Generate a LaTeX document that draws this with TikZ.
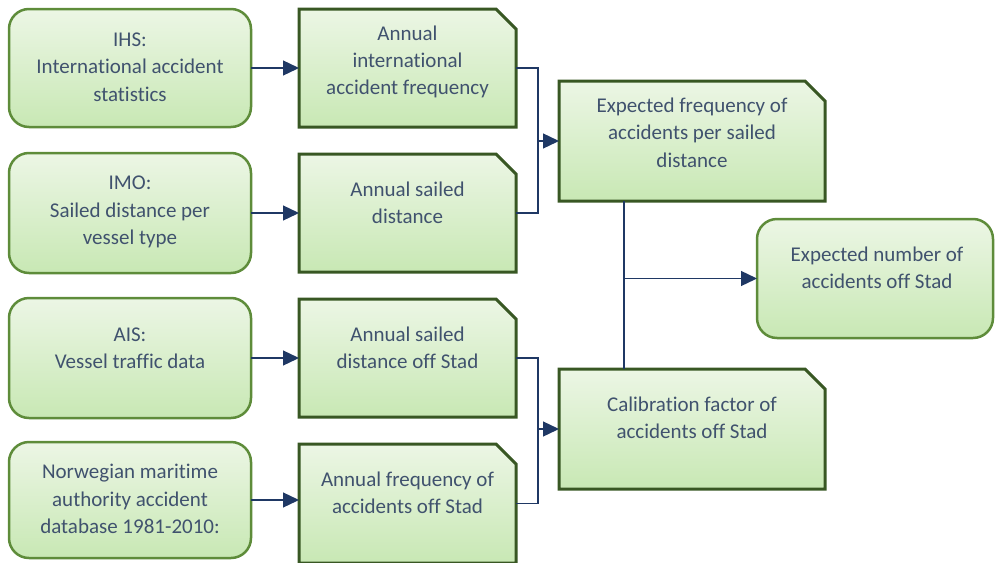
\documentclass[tikz,border=0pt]{standalone}
\usepackage{fontspec}
\setmainfont[Ligatures=NoCommon]{Carlito}
\usetikzlibrary{arrows.meta,shadings}
\definecolor{txtc}{RGB}{64,82,110}
\definecolor{linec}{RGB}{31,56,100}
\definecolor{rbord}{RGB}{94,140,58}
\definecolor{sbord}{RGB}{56,87,35}
\definecolor{gtop}{RGB}{236,246,229}
\definecolor{gbot}{RGB}{200,232,180}
\tikzset{
  srcbox/.style={rectangle, rounded corners=20pt, draw=rbord, line width=2.5pt,
    top color=gtop, bottom color=gbot, outer sep=0pt, inner sep=0pt},
  snipbox/.style={rectangle, outer sep=0pt, inner sep=0pt},
  snipdraw/.style={draw=sbord, line width=3pt, top color=gtop, bottom color=gbot, line join=miter},
  lbl/.style={align=center, text=txtc, font=\fontsize{21}{27.3}\selectfont, inner sep=0pt},
  conn/.style={draw=linec, line width=1.3pt},
  arr/.style={conn, -{Triangle[length=16pt,width=15pt]}}
}
\newcommand{\snipshape}[1]{%
  \path[snipdraw] (#1.north west) -- ([xshift=-20pt]#1.north east)
    -- ([yshift=-20pt]#1.north east) -- (#1.south east) -- (#1.south west) -- cycle;}
\begin{document}
\begin{tikzpicture}[x=1pt,y=-1pt]
\useasboundingbox (0,0) rectangle (995,562);
% left sources
\node[srcbox, minimum width=242pt, minimum height=118pt] (L1) at (130,68) {};
\node[srcbox, minimum width=242pt, minimum height=120pt] (L2) at (130,213) {};
\node[srcbox, minimum width=242pt, minimum height=120pt] (L3) at (130,358) {};
\node[srcbox, minimum width=242pt, minimum height=116pt] (L4) at (130,500) {};
% middle
\node[snipbox, minimum width=217pt, minimum height=118pt] (M1) at (407.5,68) {};
\node[snipbox, minimum width=217pt, minimum height=118pt] (M2) at (407.5,213) {};
\node[snipbox, minimum width=217pt, minimum height=118pt] (M3) at (407.5,358) {};
\node[snipbox, minimum width=217pt, minimum height=119pt] (M4) at (407.5,503.5) {};
% right
\node[snipbox, minimum width=266pt, minimum height=120pt] (R1) at (692,141) {};
\node[snipbox, minimum width=266pt, minimum height=120pt] (R2) at (692,429) {};
\node[srcbox, minimum width=236pt, minimum height=119pt] (E) at (875,278.5) {};
\snipshape{M1}\snipshape{M2}\snipshape{M3}\snipshape{M4}
\snipshape{R1}\snipshape{R2}
% texts
\node[lbl] (L1t) at (130,67) {IHS:\\International accident\\statistics};
\node[lbl] (L2t) at (130,212) {IMO:\\Sailed distance per\\vessel type};
\node[lbl] (L3t) at (130,348) {AIS:\\Vessel traffic data};
\node[lbl] (L4t) at (130,499) {Norwegian maritime\\authority accident\\database 1981-2010:};
\node[lbl] (M1t) at (407.5,62) {Annual\\international\\accident frequency};
\node[lbl] (M2t) at (407.5,202.5) {Annual sailed\\distance};
\node[lbl] (M3t) at (407.5,347.5) {Annual sailed\\distance off Stad};
\node[lbl] (M4t) at (407.5,492.5) {Annual frequency of\\accidents off Stad};
\node[lbl] (R1t) at (692,132.5) {Expected frequency of\\accidents per sailed\\distance};
\node[lbl] (R2t) at (692,418) {Calibration factor of\\accidents off Stad};
\node[lbl] (Et) at (877,267.5) {Expected number of\\accidents off Stad};
% connectors left -> middle
\draw[arr] (L1.east) -- (M1.west);
\draw[arr] (L2.east) -- (M2.west);
\draw[arr] (L3.east) -- (M3.west);
\draw[arr] (L4.east) -- (M4.west |- L4.east);
% middle -> right
\coordinate (j1) at (538,141);
\coordinate (j2) at (538,429);
\draw[conn] (M1.east) -| (j1) |- (M2.east);
\draw[arr] (j1) -- (R1.west);
\draw[conn] (M3.east) -| (j2) |- (M4.east);
\draw[arr] (j2) -- (R2.west);
% vertical and to result
\coordinate (vt) at (624,201);
\coordinate (vb) at (624,369);
\coordinate (vm) at (624,278.5);
\draw[conn] (vt) -- (vb);
\draw[arr] (vm) -- (E.west);
\end{tikzpicture}
\end{document}
